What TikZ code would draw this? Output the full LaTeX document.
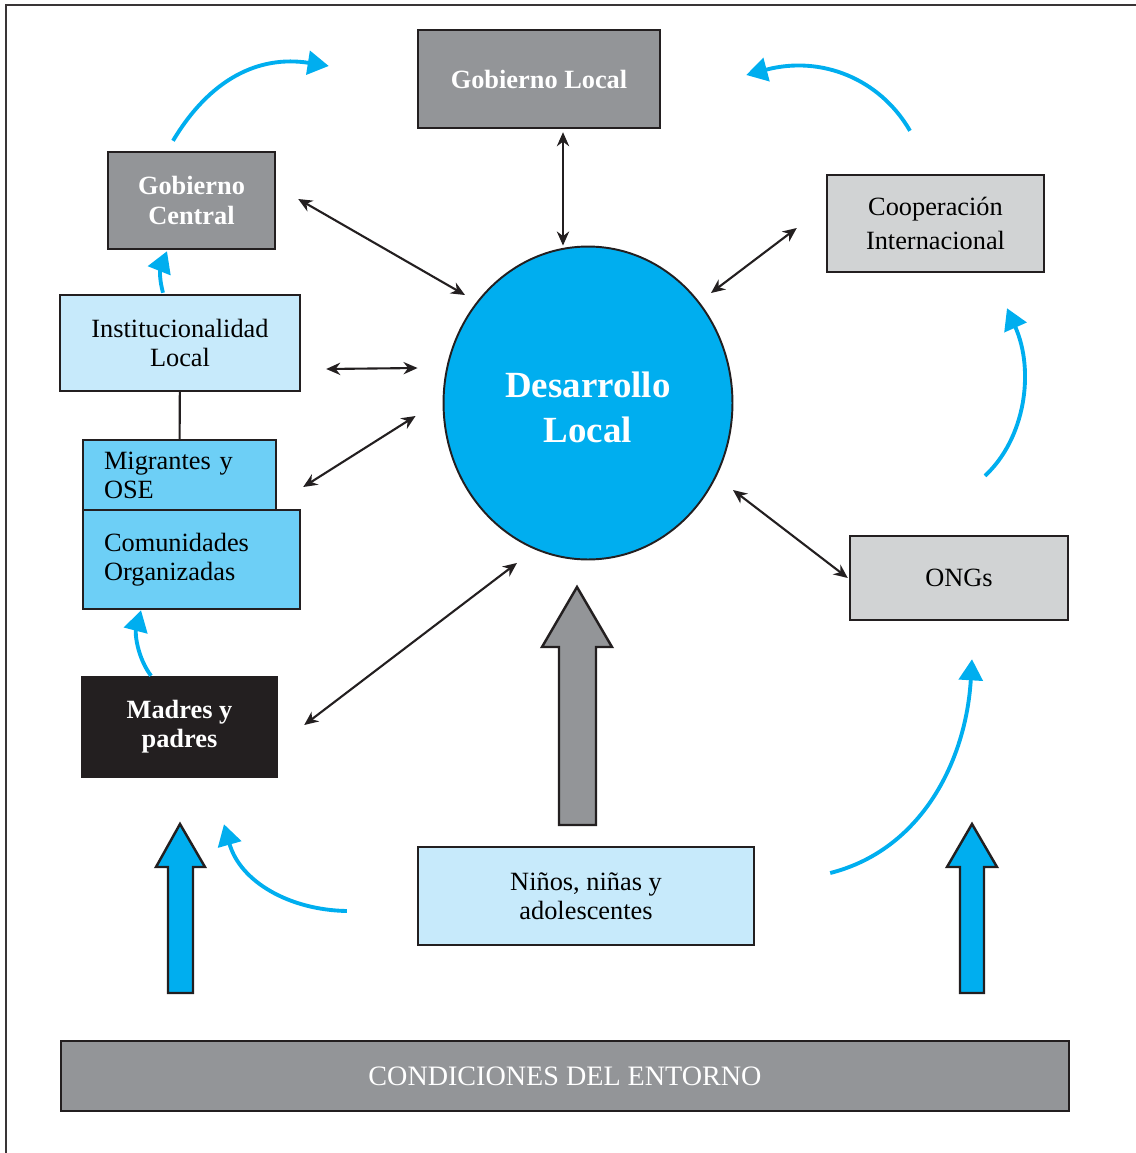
\documentclass[tikz,border=0pt]{standalone}
\usepackage{fontspec}
\setmainfont{Liberation Serif}
\usetikzlibrary{arrows.meta,shapes.geometric}

\definecolor{gris}{HTML}{939598}
\definecolor{grisclaro}{HTML}{D1D3D4}
\definecolor{celeste}{HTML}{C7EAFB}
\definecolor{azulmedio}{HTML}{6DCFF6}
\definecolor{cian}{HTML}{00AEEF}
\definecolor{negro}{HTML}{231F20}

\begin{document}
\begin{tikzpicture}[x=0.02cm,y=-0.02cm,>={Stealth[length=8pt,width=7pt]},
  box/.style={rectangle,draw=negro,line width=1.4pt,align=center,inner sep=2pt,font=\fontsize{15}{16.5}\selectfont},
  darkbox/.style={box,fill=gris,text=white,font=\fontsize{15}{17.5}\selectfont\bfseries},
  link/.style={<->,draw=negro,line width=1.2pt},
  flow/.style={-{Triangle[length=12pt,width=13.5pt]},draw=cian,line width=2.2pt},
  blockarrow/.style={draw=negro,line width=1.4pt,line join=miter}]
  \useasboundingbox (0,0) rectangle (1136,1153);
  \draw[line width=1.2pt,draw=negro!90] (1136,5) -- (6,5) -- (6,1153);

  \node[darkbox,minimum width=4.84cm,minimum height=1.96cm] (gobLocal) at (539,79) {Gobierno Local};
  \node[darkbox,minimum width=3.34cm,minimum height=1.94cm] (gobCentral) at (191.5,200.5) {Gobierno\\Central};
  \node[box,fill=grisclaro,minimum width=4.34cm,minimum height=1.94cm,font=\fontsize{15}{19}\selectfont] (coop) at (935.5,223.5) {Cooperación\\Internacional};
  \node[box,fill=celeste,minimum width=4.8cm,minimum height=1.92cm] (instit) at (180,343) {Institucionalidad\\Local};
  \node[box,fill=azulmedio,text width=3.02cm,inner xsep=0.42cm,minimum height=1.4cm,align=left] (migr) at (179.5,475) {Migrantes y\\OSE};
  \node[box,fill=azulmedio,text width=3.5cm,inner xsep=0.42cm,minimum height=1.98cm,align=left] (comun) at (191.5,559.5) {Comunidades\\Organizadas};
  \node[box,fill=negro,text=white,font=\fontsize{15}{16.5}\selectfont\bfseries,minimum width=3.9cm,minimum height=2cm] (madres) at (179.5,727) {Madres y\\padres};
  \node[box,fill=grisclaro,minimum width=4.36cm,minimum height=1.68cm] (ongs) at (959,578) {ONGs};
  \node[box,fill=celeste,minimum width=6.72cm,minimum height=1.96cm] (ninos) at (586,896) {Niños, niñas y\\adolescentes};
  \node[box,fill=gris,text=white,minimum width=20.16cm,minimum height=1.4cm,font=\fontsize{16}{18}\selectfont] (entorno) at (565,1076) {CONDICIONES DEL ENTORNO};
  \node[ellipse,draw=negro,line width=1.1pt,fill=cian,text=white,minimum width=5.78cm,minimum height=6.26cm,inner sep=0pt,align=center,font=\fontsize{21}{25.5}\selectfont\bfseries] (devLocal) at (588,403) {\rule{0pt}{20pt}Desarrollo\\Local};

  \draw[line width=1.2pt,draw=negro] (instit) -- (migr);

  \draw[link] ([shift={(24,3)}]gobLocal.south) -- ([shift={(-25,0)}]devLocal.north);
  \draw[link] ([shift={(22,-1.5)}]gobCentral.east) -- ([shift={(-123,-108)}]devLocal.center);
  \draw[link] ([shift={(-29,4.5)}]coop.west) -- ([shift={(123,-110)}]devLocal.center);
  \draw[link] ([shift={(25,26)}]instit.east) -- ([shift={(-25,-35)}]devLocal.west);
  \draw[link] ([shift={(26,12)}]migr.east) -- ([shift={(-27,13)}]devLocal.west);
  \draw[link] ([shift={(26,-2)}]madres.east) -- ([shift={(-71,2.5)}]devLocal.south);
  \draw[link] ([shift={(-1,0)}]ongs.west) -- ([shift={(145,87)}]devLocal.center);

  \draw[flow] ([shift={(-18.5,-10)}]gobCentral.north) .. controls +(37,-62) and +(-70,-11) .. ([shift={(-88,-13)}]gobLocal.west);
  \draw[flow] ([shift={(-25.5,-43)}]coop.north) .. controls +(-30,-52) and +(75,-20) .. ([shift={(85,-4)}]gobLocal.east);
  \draw[flow] ([shift={(-17,-1)}]instit.north) .. controls +(-5,-19) and +(-6,15) .. ([shift={(-24.5,1)}]gobCentral.south);
  \draw[flow] ([shift={(-28.5,0)}]madres.north) .. controls +(-14,-19) and +(-6,23) .. ([shift={(-50.5,0)}]comun.south);
  \draw[flow] ([shift={(-70,15)}]ninos.west) .. controls +(-58,-1) and +(16,57) .. ([shift={(44.5,46)}]madres.south);
  \draw[flow] ([shift={(75,-23)}]ninos.east) .. controls +(91,-23) and +(-6,102) .. ([shift={(13,38)}]ongs.south);
  \draw[flow] ([shift={(26,-59)}]ongs.north) .. controls +(40,-37) and +(28,63) .. ([shift={(71.5,35)}]coop.south);

  \draw[blockarrow,fill=gris] (559,825) -- (559,647) -- (542,647) -- (577,587) -- (612,647) -- (596,647) -- (596,825) -- cycle;
  \draw[blockarrow,fill=cian] (168,993) -- (168,867) -- (156,867) -- (180,824) -- (205,867) -- (193,867) -- (193,993) -- cycle;
  \draw[blockarrow,fill=cian] (960,993) -- (960,867) -- (947,867) -- (972,824) -- (997,867) -- (984,867) -- (984,993) -- cycle;
\end{tikzpicture}
\end{document}
